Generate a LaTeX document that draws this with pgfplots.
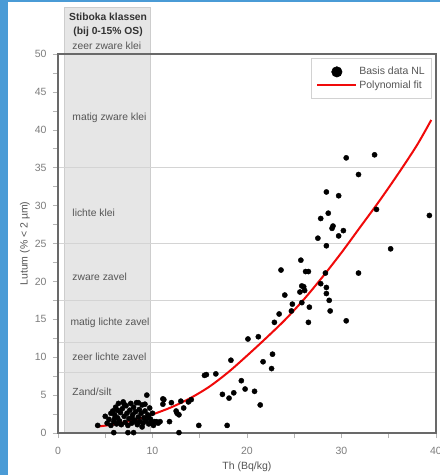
\documentclass[border=0pt]{standalone}
\usepackage{fontspec}
\setmainfont{Liberation Sans}
\usepackage{pgfplots}
\pgfplotsset{compat=1.18}
\definecolor{bandgray}{RGB}{230,230,230}
\definecolor{bandedge}{RGB}{205,205,205}
\definecolor{hline}{RGB}{212,212,212}
\definecolor{axgray}{RGB}{105,105,105}
\definecolor{ticklab}{RGB}{125,125,125}
\definecolor{txt}{RGB}{85,85,85}
\definecolor{frameblue}{RGB}{74,155,214}
\definecolor{fitred}{RGB}{240,10,10}
\pgfplotstableread{
x y
4.2 1.0
5.0 2.2
5.2 1.3
5.4 1.8
5.6 1.0
5.6 2.6
5.8 2.9
5.9 1.5
5.9 0.05
6.0 2.4
6.0 1.9
6.1 3.4
6.2 1.2
6.3 2.0
6.3 3.0
6.4 3.9
6.5 1.6
6.6 2.7
6.7 1.1
6.8 3.2
6.9 4.1
7.0 2.2
7.0 3.8
7.1 1.4
7.2 3.6
7.3 2.6
7.4 1.0
7.4 0.05
7.5 1.9
7.6 3.0
7.7 3.9
7.8 1.3
7.8 2.0
7.9 2.4
8.0 3.4
8.0 0.05
8.1 1.7
8.2 2.8
8.3 4.0
8.3 1.4
8.4 1.1
8.5 2.1
8.5 4.0
8.6 3.1
8.7 1.5
8.8 2.6
8.9 3.7
8.9 0.8
9.0 1.3
9.1 2.0
9.2 2.9
9.2 3.8
9.3 1.6
9.4 5.0
9.5 2.4
9.6 1.2
9.6 2.1
9.7 3.3
9.8 1.8
9.9 1.4
10.0 2.6
10.1 1.0
10.2 1.5
10.4 1.5
10.6 1.3
10.8 1.5
11.1 4.5
11.2 4.4
11.1 3.8
11.8 1.5
12.0 4.0
12.5 2.9
12.6 2.6
12.8 2.4
12.8 0.05
13.0 4.2
13.3 3.3
13.8 4.1
14.1 4.4
14.9 1.0
15.5 7.6
15.7 7.7
16.7 7.8
17.4 5.1
17.9 1.0
18.1 4.6
18.3 9.6
18.6 5.3
19.4 6.9
19.8 5.8
20.1 12.4
20.8 5.5
21.2 12.7
21.4 3.7
21.7 9.4
22.6 8.5
22.7 10.4
22.9 14.6
23.4 15.7
23.6 21.5
24.0 18.2
24.7 16.1
24.8 17.0
25.6 18.6
25.7 22.8
25.8 19.4
25.8 17.2
26.0 19.3
26.1 18.8
26.2 21.3
26.5 21.3
26.5 14.6
26.6 16.6
27.5 25.7
27.8 19.7
27.8 28.3
28.3 21.1
28.4 19.2
28.4 18.4
28.4 24.7
28.4 31.8
28.6 29.0
28.7 17.5
28.8 16.1
29.0 27.0
29.1 27.3
29.7 26.0
29.7 31.3
30.2 26.7
30.5 36.3
30.5 14.8
31.8 21.1
31.8 34.1
33.5 36.7
33.7 29.5
35.2 24.3
39.3 28.7
}\datatable
\pgfplotstableread{
x y
4.2 0.85
6 1.15
8 1.7
10 2.45
12 3.4
14 4.6
16 6.1
18 8.0
20 10.2
22 12.5
24 14.9
26 17.6
28 20.6
30 23.8
32 27.2
34 30.6
36 34.2
38 38.0
39.5 41.3
}\fittable
\begin{document}
\begin{tikzpicture}
\path[use as bounding box] (-58pt,-42pt) rectangle (382pt,433pt);
\fill[white] (-58pt,-42pt) rectangle (382pt,433pt);
\fill[frameblue] (-58pt,-42pt) rectangle (-50pt,433pt);
\fill[frameblue] (-58pt,431pt) rectangle (382pt,433pt);
\begin{axis}[
  scale only axis, width=378pt, height=379pt,
  xmin=0, xmax=40, ymin=0, ymax=50,
  clip=false, axis on top,
  axis line style={axgray, line width=1.3pt},
  xtick={0,10,20,30,40}, ytick={0,5,...,50},
  minor x tick num=1, minor y tick num=1,
  tick align=outside, xtick pos=bottom, ytick pos=left,
  major tick length=5pt, minor tick length=5pt,
  tick style={axgray!50, line width=0.6pt},
  ticklabel style={font=\fontsize{10.5}{12}\selectfont, text=ticklab},
  xticklabel style={yshift=-6pt},
  yticklabel style={xshift=-3pt},
  /pgf/number format/assume math mode=true,
  legend cell align=left,
  legend style={at={(axis cs:39.58,49.47)}, anchor=north east, draw=gray!35, line width=0.6pt,
    font=\fontsize{10.5}{12}\selectfont, text=txt, inner xsep=5pt, inner ysep=7pt},
]
\filldraw[fill=bandgray, draw=bandedge, line width=0.6pt] (axis cs:0.67,0) rectangle (axis cs:9.74,56.2);
\draw[hline, line width=0.9pt] (axis cs:0,8) -- (axis cs:40,8);
\draw[hline, line width=0.9pt] (axis cs:0,12) -- (axis cs:40,12);
\draw[hline, line width=0.9pt] (axis cs:0,17.5) -- (axis cs:40,17.5);
\draw[hline, line width=0.9pt] (axis cs:0,25) -- (axis cs:40,25);
\draw[hline, line width=0.9pt] (axis cs:0,35) -- (axis cs:40,35);
\node[align=center, font=\bfseries\fontsize{10.3}{14}\selectfont, text=black!80] at (axis cs:5.3,53.8) {Stiboka klassen\\(bij 0-15\% OS)};
\node[anchor=west, text=txt, font=\fontsize{10.3}{12}\selectfont] at (axis cs:1.16,51.05) {zeer zware klei};
\node[anchor=west, text=txt, font=\fontsize{10.3}{12}\selectfont] at (axis cs:1.16,41.6) {matig zware klei};
\node[anchor=west, text=txt, font=\fontsize{10.3}{12}\selectfont] at (axis cs:1.16,29.0) {lichte klei};
\node[anchor=west, text=txt, font=\fontsize{10.3}{12}\selectfont] at (axis cs:1.16,20.6) {zware zavel};
\node[anchor=west, text=txt, font=\fontsize{10.3}{12}\selectfont] at (axis cs:0.95,14.5) {matig lichte zavel};
\node[anchor=west, text=txt, font=\fontsize{10.3}{12}\selectfont] at (axis cs:1.16,10.0) {zeer lichte zavel};
\node[anchor=west, text=txt, font=\fontsize{10.3}{12}\selectfont] at (axis cs:1.16,5.4) {Zand/silt};
\addplot[only marks, mark=*, mark size=2.6pt, black,
  legend image code/.code={\fill[black] (19.5pt,0pt) circle (5.2pt);}] table[x=x,y=y] {\datatable};
\addlegendentry{Basis data NL}
\addplot[fitred, line width=2pt, smooth, no marks,
  legend image code/.code={\draw[fitred,line width=2pt] (0pt,0pt) -- (39pt,0pt);}] table[x=x,y=y] {\fittable};
\addlegendentry{Polynomial fit}
\end{axis}
\node[rotate=90, text=txt, font=\fontsize{10.5}{12}\selectfont] at (-33pt,189.5pt) {Lutum (\% < 2 µm)};
\node[text=txt, font=\fontsize{10.5}{12}\selectfont] at (189pt,-34pt) {Th (Bq/kg)};
\end{tikzpicture}
\end{document}
